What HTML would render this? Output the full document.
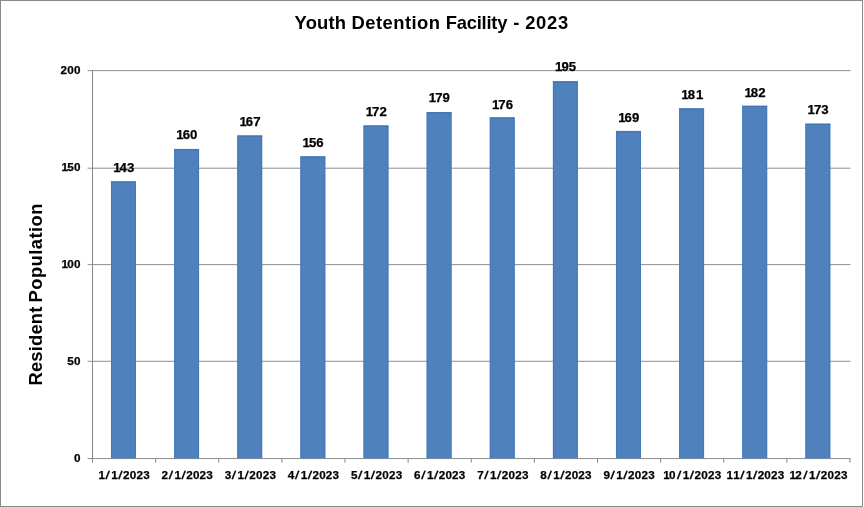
<!DOCTYPE html>
<html lang="en"><head><meta charset="utf-8"><title>Youth Detention Facility - 2023</title>
<style>html,body{margin:0;padding:0;background:#fff;overflow:hidden}svg{display:block;font-family:"Liberation Sans",sans-serif;font-weight:bold;fill:#000}.n{stroke:#000;stroke-width:0.25px;stroke-linejoin:round}</style></head><body>
<svg width="864" height="507" viewBox="0 0 864 507">
<rect x="0" y="0" width="864" height="507" fill="#fff"/>
<rect x="0.5" y="0.5" width="862" height="506" fill="none" stroke="#8a8a8a" stroke-width="1"/>
<rect x="87.6" y="70.13" width="762.90" height="1" fill="#8e8e8e"/>
<rect x="87.6" y="167.69" width="762.90" height="1" fill="#8e8e8e"/>
<rect x="87.6" y="264.13" width="762.90" height="1" fill="#8e8e8e"/>
<rect x="87.6" y="360.78" width="762.90" height="1" fill="#8e8e8e"/>
<rect x="87.6" y="458.06" width="762.90" height="1" fill="#8e8e8e"/>
<rect x="92" y="70.1" width="1" height="392.6" fill="#868686"/>
<rect x="155.12" y="458.5" width="1" height="4.2" fill="#868686"/>
<rect x="218.25" y="458.5" width="1" height="4.2" fill="#868686"/>
<rect x="281.38" y="458.5" width="1" height="4.2" fill="#868686"/>
<rect x="344.50" y="458.5" width="1" height="4.2" fill="#868686"/>
<rect x="407.62" y="458.5" width="1" height="4.2" fill="#868686"/>
<rect x="470.75" y="458.5" width="1" height="4.2" fill="#868686"/>
<rect x="533.88" y="458.5" width="1" height="4.2" fill="#868686"/>
<rect x="597.00" y="458.5" width="1" height="4.2" fill="#868686"/>
<rect x="660.12" y="458.5" width="1" height="4.2" fill="#868686"/>
<rect x="723.25" y="458.5" width="1" height="4.2" fill="#868686"/>
<rect x="786.38" y="458.5" width="1" height="4.2" fill="#868686"/>
<rect x="849.50" y="458.5" width="1" height="4.2" fill="#868686"/>
<rect x="110.95" y="181.20" width="25.05" height="277.30" fill="#4f81bd"/>
<rect x="110.95" y="181.60" width="25.05" height="1" fill="#3c72b8"/>
<rect x="111.15" y="182.60" width="1" height="275.40" fill="#4578bb"/>
<rect x="134.80" y="182.60" width="1" height="275.40" fill="#4578bb"/>
<rect x="174.07" y="148.90" width="25.05" height="309.60" fill="#4f81bd"/>
<rect x="174.07" y="149.30" width="25.05" height="1" fill="#3c72b8"/>
<rect x="174.27" y="150.30" width="1" height="307.70" fill="#4578bb"/>
<rect x="197.93" y="150.30" width="1" height="307.70" fill="#4578bb"/>
<rect x="237.20" y="135.30" width="25.05" height="323.20" fill="#4f81bd"/>
<rect x="237.20" y="135.70" width="25.05" height="1" fill="#3c72b8"/>
<rect x="237.40" y="136.70" width="1" height="321.30" fill="#4578bb"/>
<rect x="261.05" y="136.70" width="1" height="321.30" fill="#4578bb"/>
<rect x="300.32" y="156.20" width="25.05" height="302.30" fill="#4f81bd"/>
<rect x="300.32" y="156.60" width="25.05" height="1" fill="#3c72b8"/>
<rect x="300.52" y="157.60" width="1" height="300.40" fill="#4578bb"/>
<rect x="324.18" y="157.60" width="1" height="300.40" fill="#4578bb"/>
<rect x="363.45" y="125.30" width="25.05" height="333.20" fill="#4f81bd"/>
<rect x="363.45" y="125.70" width="25.05" height="1" fill="#3c72b8"/>
<rect x="363.65" y="126.70" width="1" height="331.30" fill="#4578bb"/>
<rect x="387.30" y="126.70" width="1" height="331.30" fill="#4578bb"/>
<rect x="426.57" y="112.00" width="25.05" height="346.50" fill="#4f81bd"/>
<rect x="426.57" y="112.40" width="25.05" height="1" fill="#3c72b8"/>
<rect x="426.77" y="113.40" width="1" height="344.60" fill="#4578bb"/>
<rect x="450.43" y="113.40" width="1" height="344.60" fill="#4578bb"/>
<rect x="489.70" y="117.20" width="25.05" height="341.30" fill="#4f81bd"/>
<rect x="489.70" y="117.60" width="25.05" height="1" fill="#3c72b8"/>
<rect x="489.90" y="118.60" width="1" height="339.40" fill="#4578bb"/>
<rect x="513.55" y="118.60" width="1" height="339.40" fill="#4578bb"/>
<rect x="552.83" y="81.10" width="25.05" height="377.40" fill="#4f81bd"/>
<rect x="552.83" y="81.50" width="25.05" height="1" fill="#3c72b8"/>
<rect x="553.03" y="82.50" width="1" height="375.50" fill="#4578bb"/>
<rect x="576.67" y="82.50" width="1" height="375.50" fill="#4578bb"/>
<rect x="615.95" y="130.90" width="25.05" height="327.60" fill="#4f81bd"/>
<rect x="615.95" y="131.30" width="25.05" height="1" fill="#3c72b8"/>
<rect x="616.15" y="132.30" width="1" height="325.70" fill="#4578bb"/>
<rect x="639.80" y="132.30" width="1" height="325.70" fill="#4578bb"/>
<rect x="679.08" y="108.20" width="25.05" height="350.30" fill="#4f81bd"/>
<rect x="679.08" y="108.60" width="25.05" height="1" fill="#3c72b8"/>
<rect x="679.28" y="109.60" width="1" height="348.40" fill="#4578bb"/>
<rect x="702.92" y="109.60" width="1" height="348.40" fill="#4578bb"/>
<rect x="742.20" y="105.60" width="25.05" height="352.90" fill="#4f81bd"/>
<rect x="742.20" y="106.00" width="25.05" height="1" fill="#3c72b8"/>
<rect x="742.40" y="107.00" width="1" height="351.00" fill="#4578bb"/>
<rect x="766.05" y="107.00" width="1" height="351.00" fill="#4578bb"/>
<rect x="805.33" y="123.50" width="25.05" height="335.00" fill="#4f81bd"/>
<rect x="805.33" y="123.90" width="25.05" height="1" fill="#3c72b8"/>
<rect x="805.53" y="124.90" width="1" height="333.10" fill="#4578bb"/>
<rect x="829.17" y="124.90" width="1" height="333.10" fill="#4578bb"/>
<text class="n" x="116.87 123.23 130.60" y="172.30" font-size="13.2" text-anchor="middle">143</text>
<text class="n" x="180.00 186.35 193.72" y="139.10" font-size="13.2" text-anchor="middle">160</text>
<text class="n" x="243.12 249.47 256.84" y="125.70" font-size="13.2" text-anchor="middle">167</text>
<text class="n" x="306.25 312.60 319.97" y="147.20" font-size="13.2" text-anchor="middle">156</text>
<text class="n" x="369.37 375.72 383.09" y="115.70" font-size="13.2" text-anchor="middle">172</text>
<text class="n" x="432.50 438.85 446.22" y="102.20" font-size="13.2" text-anchor="middle">179</text>
<text class="n" x="495.62 501.97 509.34" y="108.50" font-size="13.2" text-anchor="middle">176</text>
<text class="n" x="558.75 565.10 572.47" y="71.10" font-size="13.2" text-anchor="middle">195</text>
<text class="n" x="621.87 628.23 635.60" y="122.20" font-size="13.2" text-anchor="middle">169</text>
<text class="n" x="685.00 691.35 699.74" y="98.50" font-size="13.2" text-anchor="middle">181</text>
<text class="n" x="748.12 754.48 761.85" y="96.90" font-size="13.2" text-anchor="middle">182</text>
<text class="n" x="811.25 817.60 824.97" y="114.00" font-size="13.2" text-anchor="middle">173</text>
<text class="n" x="63.75 70.45 77.15" y="74.00" font-size="11.7" text-anchor="middle">200</text>
<text class="n" x="64.65 70.45 77.15" y="171.00" font-size="11.7" text-anchor="middle">150</text>
<text class="n" x="64.65 70.45 77.15" y="268.00" font-size="11.7" text-anchor="middle">100</text>
<text class="n" x="70.45 77.15" y="365.00" font-size="11.7" text-anchor="middle">50</text>
<text class="n" x="77.15" y="462.00" font-size="11.7" text-anchor="middle">0</text>
<text x="101.81 106.91 114.61 119.71 126.31 133.01 139.71 146.41" y="478.7 478.70 478.7 478.70 478.7 478.7 478.7 478.7" rotate="0 10.5 0 10.5 0 0 0 0" class="n" font-size="11.7" text-anchor="middle">1/1/2023</text>
<text x="164.84 170.04 177.74 182.84 189.44 196.14 202.84 209.54" y="478.7 478.70 478.7 478.70 478.7 478.7 478.7 478.7" rotate="0 10.5 0 10.5 0 0 0 0" class="n" font-size="11.7" text-anchor="middle">2/1/2023</text>
<text x="227.96 233.16 240.86 245.96 252.56 259.26 265.96 272.66" y="478.7 478.70 478.7 478.70 478.7 478.7 478.7 478.7" rotate="0 10.5 0 10.5 0 0 0 0" class="n" font-size="11.7" text-anchor="middle">3/1/2023</text>
<text x="291.09 296.29 303.99 309.09 315.69 322.39 329.09 335.79" y="478.7 478.70 478.7 478.70 478.7 478.7 478.7 478.7" rotate="0 10.5 0 10.5 0 0 0 0" class="n" font-size="11.7" text-anchor="middle">4/1/2023</text>
<text x="354.21 359.41 367.11 372.21 378.81 385.51 392.21 398.91" y="478.7 478.70 478.7 478.70 478.7 478.7 478.7 478.7" rotate="0 10.5 0 10.5 0 0 0 0" class="n" font-size="11.7" text-anchor="middle">5/1/2023</text>
<text x="417.34 422.54 430.24 435.34 441.94 448.64 455.34 462.04" y="478.7 478.70 478.7 478.70 478.7 478.7 478.7 478.7" rotate="0 10.5 0 10.5 0 0 0 0" class="n" font-size="11.7" text-anchor="middle">6/1/2023</text>
<text x="480.46 485.66 493.36 498.46 505.06 511.76 518.46 525.16" y="478.7 478.70 478.7 478.70 478.7 478.7 478.7 478.7" rotate="0 10.5 0 10.5 0 0 0 0" class="n" font-size="11.7" text-anchor="middle">7/1/2023</text>
<text x="543.59 548.79 556.49 561.59 568.19 574.89 581.59 588.29" y="478.7 478.70 478.7 478.70 478.7 478.7 478.7 478.7" rotate="0 10.5 0 10.5 0 0 0 0" class="n" font-size="11.7" text-anchor="middle">8/1/2023</text>
<text x="606.71 611.91 619.61 624.71 631.31 638.01 644.71 651.41" y="478.7 478.70 478.7 478.70 478.7 478.7 478.7 478.7" rotate="0 10.5 0 10.5 0 0 0 0" class="n" font-size="11.7" text-anchor="middle">9/1/2023</text>
<text x="666.59 672.19 678.39 686.09 691.19 697.79 704.49 711.19 717.89" y="478.7 478.7 478.70 478.7 478.70 478.7 478.7 478.7 478.7" rotate="0 0 10.5 0 10.5 0 0 0 0" class="n" font-size="11.7" text-anchor="middle">10/1/2023</text>
<text x="729.71 736.41 741.51 749.21 754.31 760.91 767.61 774.31 781.01" y="478.7 478.7 478.70 478.7 478.70 478.7 478.7 478.7 478.7" rotate="0 0 10.5 0 10.5 0 0 0 0" class="n" font-size="11.7" text-anchor="middle">11/1/2023</text>
<text x="792.84 798.44 804.64 812.34 817.44 824.04 830.74 837.44 844.14" y="478.7 478.7 478.70 478.7 478.70 478.7 478.7 478.7 478.7" rotate="0 0 10.5 0 10.5 0 0 0 0" class="n" font-size="11.7" text-anchor="middle">12/1/2023</text>
<text x="294.60" y="29.2" dx="0.00 0.17 0.17 0.17 0.17 0.00 0.45 0.45 0.45 0.45 0.45 0.45 0.45 0.45 0.45 0.00 0.62 -0.26 -0.26 -0.26 -0.26 -0.26 -0.26 -0.26 0.00 0.72 0.00 0.67 0.68 0.68 0.68" font-size="18.4">Youth Detention Facility - 2023</text>
<text transform="translate(41.9,0) rotate(-90)" x="-385.51" y="0" dx="0.00 0.16 0.16 0.16 0.16 0.16 0.16 0.16 0.00 -0.91 0.42 0.42 0.42 0.42 0.42 0.42 0.42 0.42 0.42" font-size="18.4">Resident Population</text>
</svg></body></html>
